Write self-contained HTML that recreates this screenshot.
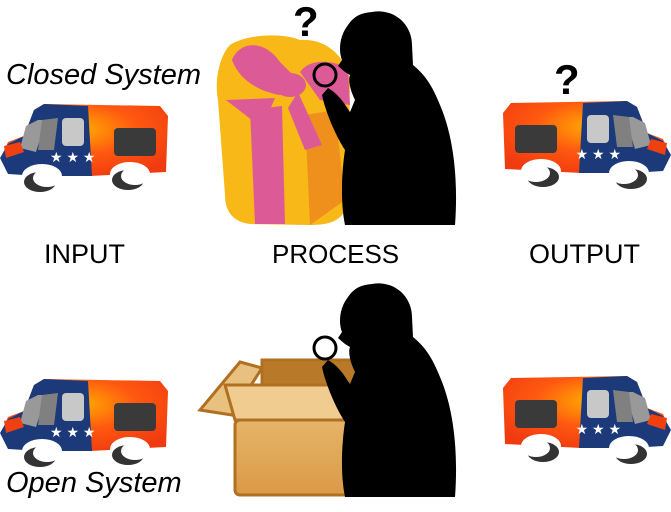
<!DOCTYPE html>
<html><head><style>
html,body{margin:0;padding:0;background:#fff;width:671px;height:512px;overflow:hidden}
text{font-family:"Liberation Sans","DejaVu Sans",sans-serif}
</style></head><body>
<svg width="671" height="512" viewBox="0 0 671 512" xmlns="http://www.w3.org/2000/svg">
<defs>
<radialGradient id="og" cx="0.45" cy="0.35" r="0.7">
<stop offset="0" stop-color="#ffb000"/><stop offset="0.5" stop-color="#ff5a10"/><stop offset="1" stop-color="#f03a10"/>
</radialGradient>
<linearGradient id="bx" x1="0" y1="0" x2="0" y2="1"><stop offset="0" stop-color="#e7b468"/><stop offset="1" stop-color="#d99a48"/></linearGradient>
<g id="truck">
<path d="M34,14 L44,8 L160,10 L168,20 L166,76 L90,80 L40,78 L8,76 L2,60 L8,46 L24,40 Z" fill="url(#og)"/>
<path d="M34,14 L44,8 L88,10 L92,80 L40,80 L8,78 L0,62 L8,48 L24,40 Z" fill="#1c3a7a"/>
<path d="M26,30 L38,24 L46,24 L36,56 L20,52 Z" fill="#999"/>
<path d="M42,24 L58,22 L54,54 L38,54 Z" fill="#808080"/>
<rect x="62" y="22" width="22" height="28" rx="4" fill="#c8c8c8"/>
<rect x="114" y="32" width="42" height="28" rx="4" fill="#3a3a3a"/>
<path d="M4,50 L20,46 L24,56 L6,62 Z" fill="#f04010"/>
<text x="50" y="66" font-size="14" fill="#fff">★ ★ ★</text>
<ellipse cx="42" cy="80" rx="20" ry="12" fill="#fff"/>
<ellipse cx="130" cy="78" rx="20" ry="12" fill="#fff"/>
<ellipse cx="40" cy="86" rx="16" ry="10" fill="#333"/>
<ellipse cx="47" cy="82" rx="14" ry="9" fill="#fff"/>
<ellipse cx="128" cy="84" rx="16" ry="10" fill="#333"/>
<ellipse cx="135" cy="80" rx="14" ry="9" fill="#fff"/>
</g>
<path id="man" d="M372,12 C395,8 412,25 412,45 L413,65 C425,75 432,85 440,105 C455,140 458,185 455,225 L345,225 C340,200 342,170 345,150 C335,135 325,110 322,95 L328,88 C340,95 345,105 350,112 L355,100 C350,90 348,80 350,75 L345,72 L338,66 L342,60 C338,50 340,35 348,25 C355,15 362,13 372,12 Z" fill="#000"/>
</defs>

<text x="6" y="84" font-size="29" font-style="italic" fill="#000">Closed System</text>
<text x="6" y="492" font-size="29" font-style="italic" fill="#000">Open System</text>
<text x="44" y="263" font-size="27" fill="#000">INPUT</text>
<text x="272" y="263" font-size="26" fill="#000">PROCESS</text>
<text x="529" y="263" font-size="27" fill="#000">OUTPUT</text>
<text x="293" y="36" font-size="42" font-weight="bold" fill="#000">?</text>
<text x="554" y="94" font-size="42" font-weight="bold" fill="#000">?</text>

<use href="#truck" x="0" y="96"/>
<use href="#truck" transform="translate(671,93) scale(-1,1)"/>
<use href="#truck" x="0" y="371"/>
<use href="#truck" transform="translate(671,368) scale(-1,1)"/>

<!-- gift -->
<path d="M230,45 C245,35 280,32 300,40 C325,38 345,55 350,80 L348,200 C345,218 335,225 310,225 L250,224 C232,222 225,210 225,195 L218,100 C214,80 220,55 230,45 Z" fill="#f7b818"/>
<path d="M250,110 L282,106 L285,224 L255,224 Z" fill="#dc5a96"/>
<path d="M305,115 L335,110 L345,200 L310,225 Z" fill="#f0901c"/>
<path d="M232,60 C240,40 265,40 280,62 L300,82 L280,95 C262,92 240,82 232,60 Z" fill="#dc5a96"/>
<path d="M300,72 C310,58 332,60 348,68 L350,105 L320,100 Z" fill="#dc5a96"/>
<path d="M226,100 L275,98 L262,128 Z" fill="#dc5a96"/>
<path d="M298,92 L322,145 L305,150 L288,108 Z" fill="#dc5a96"/>
<ellipse cx="290" cy="85" rx="16" ry="12" fill="#dc5a96"/>

<!-- open box -->
<path d="M232,415 L200,410 L240,362 L262,368 Z" fill="#e8c080" stroke="#b07020" stroke-width="3"/>
<path d="M262,360 L360,360 L362,385 L262,385 Z" fill="#b87a28" stroke="#b07020" stroke-width="3"/>
<path d="M225,385 L365,385 L365,420 L235,420 Z" fill="#f0cc90" stroke="#b07020" stroke-width="3"/>
<rect x="235" y="420" width="130" height="75" rx="5" fill="url(#bx)" stroke="#b07020" stroke-width="3"/>

<use href="#man"/>
<circle cx="325" cy="75" r="11" fill="none" stroke="#000" stroke-width="3"/>
<use href="#man" transform="translate(0,272)"/>
<circle cx="325" cy="348" r="11" fill="none" stroke="#000" stroke-width="3"/>
</svg>
</body></html>
